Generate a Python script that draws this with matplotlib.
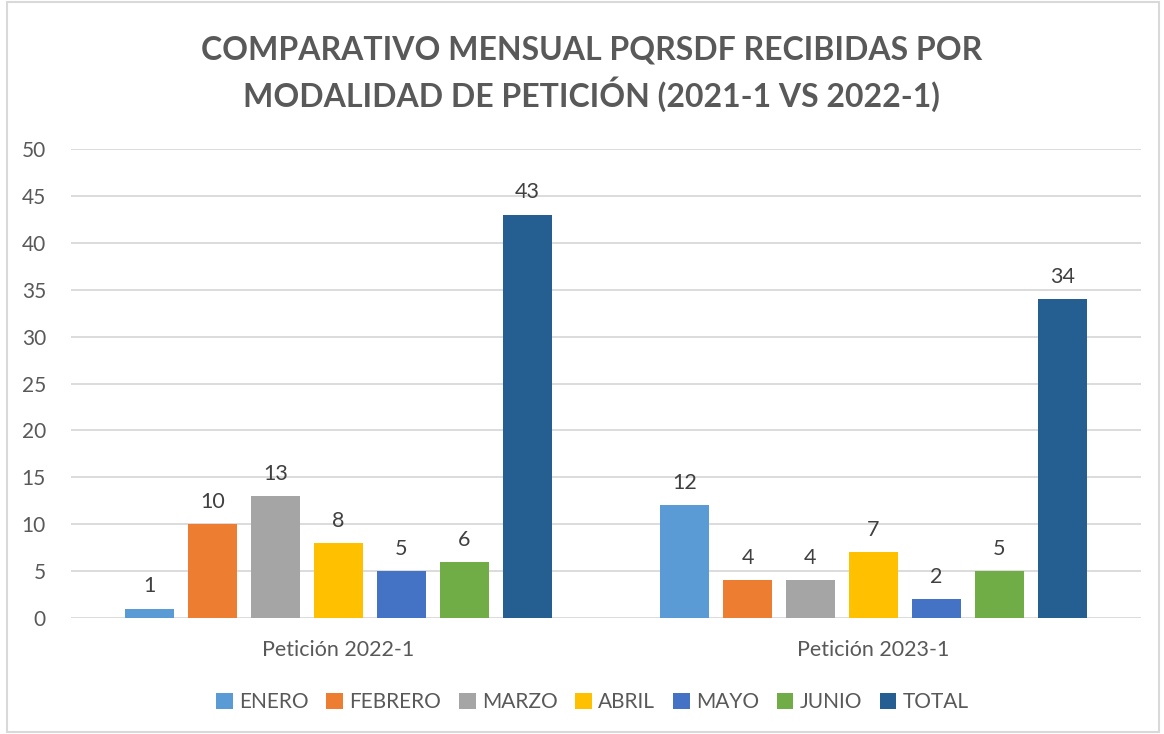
import numpy as np
import matplotlib.pyplot as plt
from matplotlib.patches import Rectangle

categorias = ['Petición 2022-1', 'Petición 2023-1']
meses = ['ENERO', 'FEBRERO', 'MARZO', 'ABRIL', 'MAYO', 'JUNIO', 'TOTAL']
valores = {
    'ENERO': [1, 12],
    'FEBRERO': [10, 4],
    'MARZO': [13, 4],
    'ABRIL': [8, 7],
    'MAYO': [5, 2],
    'JUNIO': [6, 5],
    'TOTAL': [43, 34],
}
colores = ['#5B9BD5', '#ED7D31', '#A5A5A5', '#FFC000', '#4472C4', '#70AD47', '#255E91']

plt.rcParams['font.family'] = ['Lato', 'DejaVu Sans']
gris = '#595959'

fig = plt.figure(figsize=(11.64, 7.34), dpi=100)
ax = fig.add_axes([71/1164, 1 - 618/734, 1070/1164, 469/734])

x = np.arange(len(categorias))
paso = 63/535
ancho = 49/535
for i, mes in enumerate(meses):
    pos = x + (i - 3) * paso
    barras = ax.bar(pos, valores[mes], ancho, color=colores[i], label=mes, zorder=3)
    for b, v in zip(barras, valores[mes]):
        ax.text(b.get_x() + b.get_width()/2, v + 1.3, str(v), ha='center', va='bottom',
                fontsize=15.5, color='#404040')

ax.set_xlim(-0.5, 1.5)
ax.set_ylim(0, 50)
ax.set_yticks(range(0, 51, 5))
ax.set_xticks(x)
ax.set_xticklabels(categorias)
ax.grid(axis='y', color='#D9D9D9', linewidth=1.3, zorder=0)
for s in ax.spines.values():
    s.set_visible(False)
ax.tick_params(axis='both', length=0, labelsize=15, colors=gris)
ax.tick_params(axis='y', pad=18)
ax.tick_params(axis='x', pad=16)
for lbl in ax.get_xticklabels():
    lbl.set_fontsize(15.5)

fig.suptitle('COMPARATIVO MENSUAL PQRSDF RECIBIDAS POR\nMODALIDAD DE PETICIÓN (2021-1 VS 2022-1)',
             x=0.508, y=0.952, fontsize=23, fontweight='bold', color=gris, linespacing=1.4)

fig.legend(loc='center', bbox_to_anchor=(0.509, 1 - 702/734), ncol=7, frameon=False,
           fontsize=15, labelcolor=gris, handlelength=0.8, handleheight=0.8,
           handletextpad=0.3, columnspacing=0.85)

fig.patches.append(Rectangle((7/1164, 2/734), 1152/1164, 730/734, transform=fig.transFigure,
                             fill=False, edgecolor='#D9D9D9', linewidth=1.5))

fig.savefig('out.png', dpi=100)
